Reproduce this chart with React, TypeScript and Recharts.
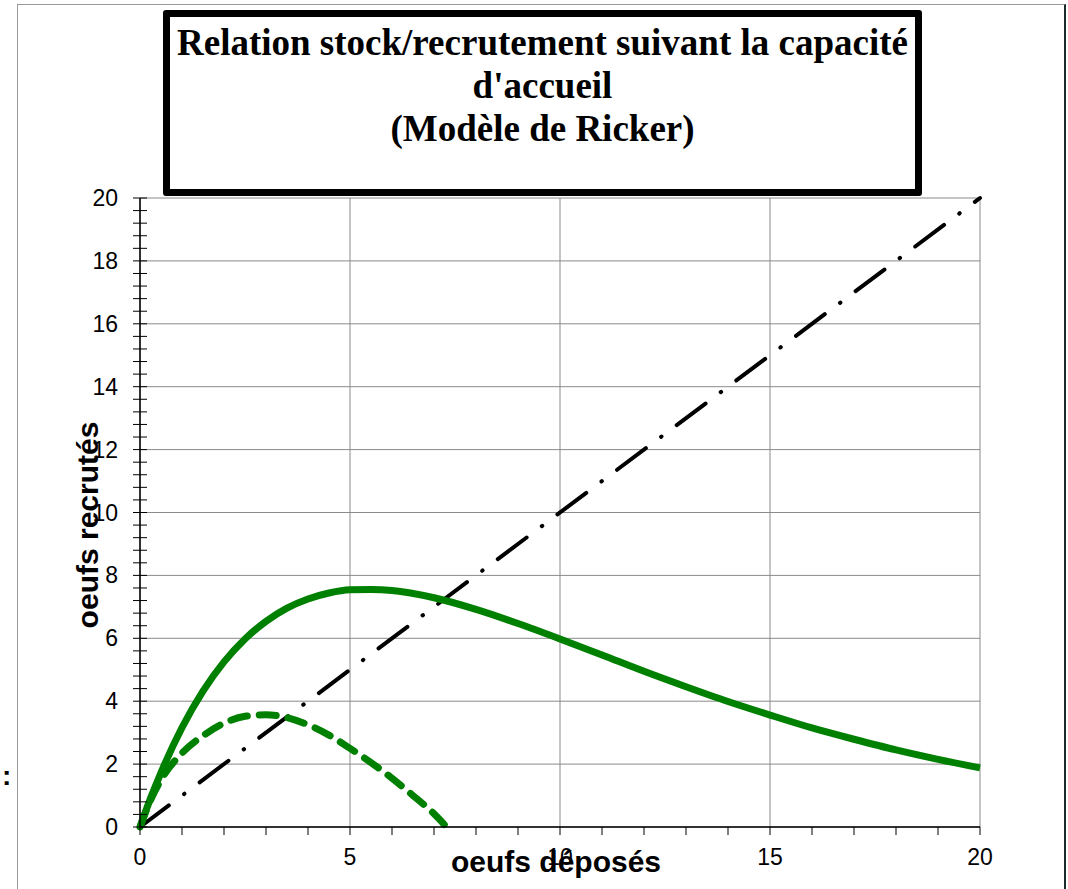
import React from "react";
import {
  LineChart,
  Line,
  XAxis,
  YAxis,
  CartesianGrid,
} from "recharts";

// oeufs déposés (x) / oeufs recrutés (y)
const solidStock = [0, 0.25, 0.5, 1, 1.5, 2, 2.5, 3, 3.5, 4, 4.5, 5, 5.5, 6, 7, 8, 9, 10, 11, 12, 13, 14, 15, 16, 17, 18, 19, 20];
const solidRecruit = [0, 0.91, 1.73, 3.16, 4.32, 5.25, 5.98, 6.54, 6.96, 7.25, 7.44, 7.54, 7.55, 7.52, 7.29, 6.92, 6.47, 5.98, 5.47, 4.95, 4.46, 3.99, 3.56, 3.15, 2.79, 2.45, 2.15, 1.88];

const dashedStock = [0, 0.25, 0.5, 1, 1.5, 2, 2.5, 3, 3.5, 4, 4.5, 5, 5.5, 6, 6.5, 7, 7.3];
const dashedRecruit = [0, 0.85, 1.5, 2.35, 2.9, 3.3, 3.52, 3.57, 3.48, 3.25, 2.92, 2.5, 2.05, 1.55, 1.0, 0.42, 0];

const diagStock = [0, 20];
const diagRecruit = [0, 20];

const xTicks = [0, 5, 10, 15, 20];
const yTicks = [0, 2, 4, 6, 8, 10, 12, 14, 16, 18, 20];
const xMinorTicks = Array.from({ length: 21 }, (_, i) => i);
const yMinorTicks = Array.from({ length: 51 }, (_, i) => Math.round(i * 0.4 * 10) / 10);

const titleLines = [
  "Relation stock/recrutement suivant la capacité",
  "d'accueil",
  "(Modèle de Ricker)",
];

const toPoints = (xs: number[], ys: number[]) => xs.map((x, i) => ({ x, y: ys[i] }));

const sans = "Liberation Sans, Arial, sans-serif";

const YTick = (props: any) => {
  const { x, y, payload } = props;
  const major = yTicks.includes(payload.value);
  return (
    <g>
      <line x1={x - 7} x2={x + 7} y1={y} y2={y} stroke="#000" strokeWidth={1} />
      {major && (
        <text x={x - 22} y={y} dy="0.35em" textAnchor="end" fontFamily={sans} fontSize={23} fill="#000">
          {payload.value}
        </text>
      )}
    </g>
  );
};

const XTick = (props: any) => {
  const { x, y, payload } = props;
  const major = xTicks.includes(payload.value);
  return (
    <g>
      <line x1={x} x2={x} y1={y} y2={y + 8} stroke="#000" strokeWidth={1} />
      {major && (
        <text x={x} y={y + 22} dy="0.71em" textAnchor="middle" fontFamily={sans} fontSize={23} fill="#000">
          {payload.value}
        </text>
      )}
    </g>
  );
};

export default function App() {
  const solid = toPoints(solidStock, solidRecruit);
  const dashed = toPoints(dashedStock, dashedRecruit);
  const diag = toPoints(diagStock, diagRecruit);

  return (
    <div style={{ position: "absolute", left: 0, top: 0, width: 1068, height: 889, background: "#fff", overflow: "hidden" }}>
      {/* outer frame */}
      <div
        style={{
          position: "absolute",
          left: 17,
          top: 4,
          width: 1046,
          height: 900,
          borderTop: "1px solid #999",
          borderLeft: "1px solid #999",
          borderRight: "2px solid #1b2b2b",
        }}
      />
      <div
        style={{
          position: "absolute",
          left: 2,
          top: 760,
          fontFamily: sans,
          fontWeight: "bold",
          fontSize: 28,
        }}
      >
        :
      </div>
      <LineChart
        width={1068}
        height={889}
        margin={{ top: 198, right: 88, bottom: 22, left: 80 }}
        style={{ position: "absolute", left: 0, top: 0 }}
      >
        <CartesianGrid
          stroke="#8a8a8a"
          strokeWidth={1}
          horizontalValues={yTicks}
          verticalValues={xTicks}
        />
        <XAxis
          type="number"
          dataKey="x"
          domain={[0, 20]}
          ticks={xMinorTicks}
          height={40}
          axisLine={{ stroke: "#000", strokeWidth: 1.5 }}
          tickLine={false}
          tickSize={0}
          tickMargin={0}
          tick={<XTick />}
          interval={0}
        />
        <YAxis
          type="number"
          domain={[0, 20]}
          ticks={yMinorTicks}
          width={60}
          axisLine={{ stroke: "#000", strokeWidth: 1.5 }}
          tickLine={false}
          tickSize={0}
          tickMargin={0}
          tick={<YTick />}
          interval={0}
        />
        <Line
          data={diag}
          dataKey="y"
          type="linear"
          stroke="#000"
          strokeWidth={4}
          strokeDasharray="36 19 0.5 19"
          strokeLinecap="round"
          dot={false}
          isAnimationActive={false}
        />
        <Line
          data={dashed}
          dataKey="y"
          type="monotone"
          stroke="#008000"
          strokeWidth={7}
          strokeDasharray="17 12"
          strokeLinecap="round"
          dot={false}
          isAnimationActive={false}
        />
        <Line
          data={solid}
          dataKey="y"
          type="monotone"
          stroke="#008000"
          strokeWidth={7}
          dot={false}
          isAnimationActive={false}
        />
      </LineChart>
      {/* axis titles */}
      <div
        style={{
          position: "absolute",
          left: 88,
          top: 525,
          transform: "translate(-50%, -50%) rotate(-90deg)",
          fontFamily: sans,
          fontWeight: "bold",
          fontSize: 30,
          whiteSpace: "nowrap",
        }}
      >
        oeufs recrutés
      </div>
      <div
        style={{
          position: "absolute",
          left: 556,
          top: 862,
          transform: "translate(-50%, -50%)",
          fontFamily: sans,
          fontWeight: "bold",
          fontSize: 30,
          whiteSpace: "nowrap",
        }}
      >
        oeufs déposés
      </div>
      {/* title box */}
      <div
        style={{
          position: "absolute",
          left: 163,
          top: 10,
          width: 759,
          height: 186,
          boxSizing: "border-box",
          border: "7px solid #000",
          borderRadius: 3,
          background: "#fff",
          fontFamily: "Liberation Serif, Times New Roman, serif",
          fontWeight: "bold",
          fontSize: 37,
          textAlign: "center",
          lineHeight: "43px",
          paddingTop: 4,
          whiteSpace: "nowrap",
        }}
      >
        {titleLines.map((t) => (
          <div key={t}>{t}</div>
        ))}
      </div>
    </div>
  );
}
